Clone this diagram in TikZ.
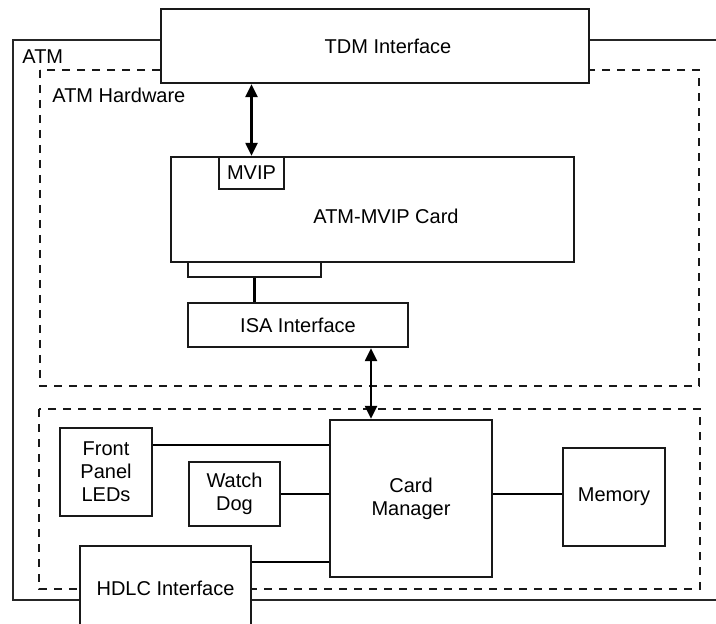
\documentclass[tikz,border=0pt]{standalone}
\usepackage{fontspec}
\setmainfont{Liberation Sans}
\usetikzlibrary{arrows.meta}

\begin{document}
\begin{tikzpicture}[x=0.5pt,y=-0.5pt]

		\tikzset{
            block/.style={
                draw=black!90,
                line width=1.2pt,
                fill=white,
                inner sep=0pt,
                align=center,
                font=\fontsize{10}{11.5}\selectfont
            },
            group/.style={draw=black!90, line width=1.1pt, dash pattern=on 4pt off 3.5pt},
            frame/.style={draw=black!85, line width=0.7pt},
            link/.style={line width=1.2pt},
            duplex/.style={link, {Triangle[length=6.5pt,width=6pt]}-{Triangle[length=6.5pt,width=6pt]}}
        }

        \useasboundingbox (0,0) rectangle (716,624);
        \clip (0,0) rectangle (716,624);

        % ATM frame and groups
        \draw[frame] (730,40) -- (13,40) -- (13,600) -- (730,600);
        \node[anchor=west, inner sep=0pt] (atm) at (22,57) {ATM};
        \draw[group] (40,70) rectangle (699,386);
        \node[anchor=west, inner sep=0pt] (hw) at (52,95) {ATM Hardware};
        \draw[group] (39,409) rectangle (700,589);

        % blocks
        \node[block, minimum width=214pt, minimum height=37pt] (tdm) at (375,46) {};
        \node[inner sep=0pt] (tdmtext) at (388,46) {TDM Interface};
        \node[block, minimum width=201.5pt, minimum height=52.5pt] (card) at (372.5,209.5) {};
        \node[inner sep=0pt] (cardtext) at (386,216) {ATM-MVIP Card};
        \node[block, minimum width=32.5pt, minimum height=16pt] (mvip) at (251.5,173) {MVIP};
        \node[block, minimum width=66.5pt, minimum height=7.5pt] (tab) at (254.5,269.5) {};
        \node[block, minimum width=110pt, minimum height=22pt] (isa) at (298,325) {ISA Interface};

        \node[block, minimum width=81pt, minimum height=78.5pt] (cm) at (411,498.5) {Card\\Manager};
        \node[block, minimum width=51pt, minimum height=49pt] (mem) at (614,497) {Memory};
        \node[block, minimum width=46pt, minimum height=44pt] (fpl) at (106,472) {Front\\Panel\\LEDs};
        \node[block, minimum width=45.5pt, minimum height=32pt] (wd) at (234.5,494) {Watch\\Dog};
        \node[block, minimum width=85.5pt, minimum height=42pt] (hdlc) at (165.5,588) {HDLC Interface};

        % connections
        \draw[duplex] (tdm.south -| mvip.north) -- (mvip.north);
        \draw[link] (tab.south) -- (tab.south |- isa.north);
        \coordinate (bus) at (371,0);
        \draw[duplex] (isa.south -| bus) -- (cm.north -| bus);
        \draw[link] ([yshift=13.5pt]fpl.east) -- ([yshift=13.5pt]fpl.east -| cm.west);
        \draw[link] (wd.east) -- (wd.east -| cm.west);
        \draw[link] ([yshift=-8.5pt]hdlc.north east) -- ([yshift=-8.5pt]hdlc.north east -| cm.west);
        \draw[link] (wd.east -| cm.east) -- (wd.east -| mem.west);

\end{tikzpicture}
\end{document}
